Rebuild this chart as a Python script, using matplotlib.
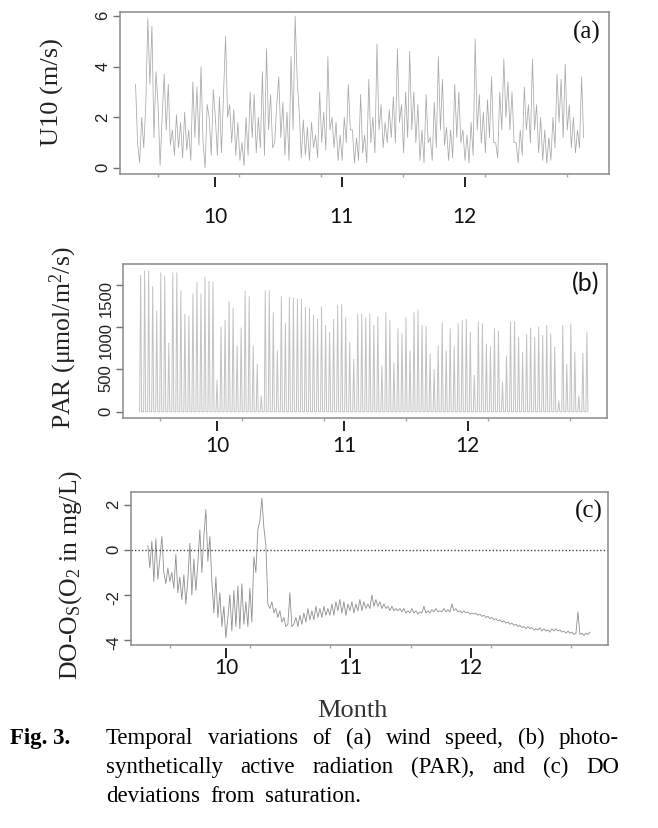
import numpy as np
import matplotlib
matplotlib.use("Agg")
import matplotlib.pyplot as plt

plt.rcParams["mathtext.default"] = "regular"
plt.rcParams["axes.unicode_minus"] = False

# x axis is day of year; month ticks at 1 Oct / 1 Nov / 1 Dec
month_pos = [274, 305, 335]
month_lab = ["10", "11", "12"]
minor_pos = [260, 280, 300, 320, 340, 360]

# (a) wind speed U10 (m/s), two readings per day
u10_start = 254.6
u10 = [3.3, 1.0, 0.2, 2.0, 0.8, 2.5, 5.9, 3.3, 5.6, 1.2, 3.8, 2.5, 0.1, 2.0, 3.7, 1.5,
       3.3, 0.9, 1.5, 0.5, 2.1, 0.8, 1.8, 0.4, 2.2, 0.7, 1.5, 0.3, 3.4, 1.2, 3.2, 0.9,
       4.0, 1.0, 0.0, 2.5, 2.0, 0.5, 3.1, 2.0, 0.5, 2.8, 0.6, 2.9, 5.2, 2.0, 2.5, 1.0,
       2.3, 0.5, 1.8, 0.3, 1.0, 0.1, 2.0, 0.5, 3.0, 1.2, 2.9, 0.6, 2.0, 0.8, 3.8, 0.5,
       4.7, 1.5, 2.9, 0.8, 1.0, 2.5, 3.6, 1.2, 2.6, 0.5, 2.2, 0.3, 4.4, 1.5, 6.0, 3.5,
       2.2, 0.4, 1.9, 0.5, 1.6, 0.3, 1.8, 0.8, 1.3, 0.4, 3.0, 1.0, 2.2, 0.7, 4.4, 1.5,
       2.0, 0.8, 1.8, 0.3, 1.3, 0.3, 2.0, 1.0, 3.3, 1.5, 1.5, 0.2, 1.2, 0.3, 2.9, 0.6,
       1.3, 0.2, 3.5, 1.0, 2.0, 0.6, 4.9, 1.5, 2.5, 0.8, 1.8, 1.0, 2.3, 1.2, 2.8, 1.0,
       4.7, 1.8, 2.5, 0.6, 3.0, 1.2, 4.6, 1.5, 3.0, 1.0, 2.5, 0.3, 1.5, 0.2, 2.9, 1.0,
       1.2, 0.3, 2.6, 0.8, 4.4, 1.5, 3.5, 0.9, 1.6, 0.3, 1.5, 0.4, 3.3, 1.2, 3.0, 1.0,
       1.5, 0.3, 1.3, 0.2, 1.8, 0.5, 5.1, 1.5, 2.9, 1.0, 2.2, 0.6, 2.7, 1.2, 3.6, 1.0,
       1.0, 0.4, 3.0, 1.5, 4.3, 2.0, 3.4, 1.5, 3.0, 1.0, 1.0, 0.2, 1.5, 0.5, 3.2, 1.5,
       2.5, 1.0, 4.3, 1.5, 2.5, 0.6, 2.0, 0.3, 1.5, 0.2, 1.2, 0.3, 2.0, 0.8, 3.7, 1.8,
       3.5, 1.2, 4.1, 1.5, 2.5, 0.8, 2.0, 0.6, 1.5, 0.8, 3.6, 1.2]

# (b) daily PAR peaks (umol/m2/s)
par_first, par_last = 255.3, 364.1
par_peak = [1610, 1660, 1660, 1480, 1190, 1640, 1600, 810, 1640, 1640, 1430, 1150,
            1130, 1390, 1530, 1390, 1590, 1540, 1530, 370, 1000, 1080, 1300, 1220,
            780, 990, 1420, 1360, 780, 560, 190, 1430, 1430, 1170, 720, 1360, 1040,
            1350, 1340, 1330, 1330, 1230, 1220, 1140, 1090, 1240, 1020,
            940, 1090, 1260, 1270, 1110, 820, 620, 1150, 1150, 1110, 1150, 1020, 1120,
            540, 1170, 1080, 580, 980, 920, 1110, 720, 1170, 1200, 1020, 1010, 680,
            500, 780, 1050, 720, 980, 770, 1040, 1080, 1090, 940, 430, 1060, 1040, 800,
            770, 980, 950, 350, 660, 1060, 1060, 880, 700, 910, 990, 880, 1000, 900,
            1020, 920, 760, 130, 1020, 560, 1040, 700, 190, 690, 940]

# (c) DO - Os (mg/L), two readings per day
do_first, do_last = 254.5, 364.7
do_dev = [0.2, -0.8, 0.4, -1.4, 0.5, -1.3, -0.4, 0.6, -1.0, -1.5, -0.8, -1.4, -1.0, -1.7,
          -0.2, -1.9, -1.2, -2.2, -1.1, -2.4, -1.3, 0.3, -2.0, -0.4, -1.8, -0.6, 0.9, -1.0,
          0.6, 1.8, -0.5, 0.6, -1.4, -2.8, -1.2, -3.0, -1.9, -3.4, -2.5, -3.9, -3.0, -2.0,
          -3.6, -1.8, -3.4, -1.6, -3.5, -1.5, -3.3, -2.3, -3.4, -1.7, -3.2, -0.3, -1.0, 0.9,
          1.3, 2.3, 1.0, 0.2, -2.4, -2.6, -2.3, -2.8, -2.6, -3.0, -2.7, -3.2, -3.0, -3.4,
          -3.3, -1.9, -3.4, -3.3, -3.0, -3.4, -2.9, -3.3, -2.8, -3.2, -2.6, -3.1, -2.7, -3.1,
          -2.5, -3.0, -2.6, -3.0, -2.5, -2.9, -2.6, -2.9, -2.4, -2.9, -2.3, -2.7, -2.2, -2.8,
          -2.3, -2.9, -2.4, -2.7, -2.3, -2.8, -2.4, -2.7, -2.2, -2.7, -2.3, -2.6, -2.4, -2.6,
          -2.0, -2.5, -2.2, -2.5, -2.3, -2.6, -2.4, -2.6, -2.5, -2.7, -2.5, -2.7, -2.6, -2.7,
          -2.6, -2.75, -2.6, -2.8, -2.7, -2.8, -2.6, -2.8, -2.7, -2.85, -2.75, -2.8, -2.5,
          -2.8, -2.7, -2.8, -2.65, -2.75, -2.6, -2.75, -2.7, -2.75, -2.6, -2.75, -2.65, -2.75,
          -2.4, -2.7, -2.6, -2.75, -2.7, -2.8, -2.7, -2.8, -2.75, -2.85, -2.8, -2.85, -2.8,
          -2.9, -2.85, -2.95, -2.9, -3.0, -2.95, -3.05, -3.0, -3.1, -3.05, -3.15, -3.1, -3.2,
          -3.15, -3.25, -3.2, -3.3, -3.25, -3.35, -3.3, -3.4, -3.35, -3.45, -3.4, -3.5, -3.4,
          -3.5, -3.45, -3.55, -3.5, -3.55, -3.45, -3.6, -3.5, -3.6, -3.55, -3.65, -3.5, -3.6,
          -3.5, -3.6, -3.55, -3.65, -3.6, -3.7, -3.6, -3.7, -3.65, -3.75, -3.7, -2.75, -3.75,
          -3.7, -3.8, -3.7, -3.75, -3.65]

W, H = 658, 829
fig = plt.figure(figsize=(W / 100, H / 100), dpi=100)
SERIF = "Liberation Serif"


def box(l, t, r, b):
    return [l / W, 1 - b / H, (r - l) / W, (b - t) / H]


def style(ax, xlim, ylim, yticks, hpx, lab_pad):
    ax.set_xlim(*xlim)
    ax.set_ylim(*ylim)
    for s in ax.spines.values():
        s.set_color("#8a8a8a")
        s.set_linewidth(1.1)
    ax.set_yticks(yticks)
    ax.tick_params(axis="y", direction="out", length=5, width=1, color="#707070",
                   pad=2, labelsize=12, labelcolor="#222222", labelrotation=90,
                   labelfontfamily="Liberation Sans")
    ax.set_xticks(minor_pos)
    ax.set_xticklabels([])
    ax.tick_params(axis="x", direction="out", length=2.5, width=1, color="#a8a8a8")
    sec = ax.secondary_xaxis(-2.5 / hpx)
    sec.spines["bottom"].set_visible(False)
    sec.set_xticks(month_pos, labels=month_lab)
    sec.tick_params(direction="out", length=7.2, width=1.3, color="#111111",
                    pad=lab_pad, labelsize=15, labelcolor="#111111",
                    labelfontfamily="Lato")


# (a) wind speed
ax1 = fig.add_axes(box(120, 13, 609, 175))
t1 = u10_start + 0.5 * np.arange(len(u10))
ax1.plot(t1, u10, color="#a8a8a8", lw=0.55)
style(ax1, (250.8, 370.3), (-0.237, 6.158), [0, 2, 4, 6], 162, 14)
ax1.text(0.955, 0.88, "(a)", transform=ax1.transAxes, ha="center", va="center",
         fontsize=18, family=SERIF, color="#111111")

# (b) PAR spikes
ax2 = fig.add_axes(box(123, 265, 607, 419))
pday = np.linspace(par_first, par_last, len(par_peak))
px = np.column_stack([pday - 0.25, pday, pday + 0.25]).ravel()
py = np.column_stack([np.zeros(len(par_peak)), par_peak, np.zeros(len(par_peak))]).ravel()
ax2.plot(px, py, color="#c2c2c2", lw=0.7)
style(ax2, (251.0, 369.0), (-74, 1744), [0, 500, 1000, 1500], 154, 3)
ax2.text(0.955, 0.88, "(b)", transform=ax2.transAxes, ha="center", va="center",
         fontsize=18, family="Lato", color="#111111")

# (c) DO deviation
ax3 = fig.add_axes(box(131, 493, 608, 646))
t3 = np.linspace(do_first, do_last, len(do_dev))
ax3.plot(t3, do_dev, color="#8e8e8e", lw=0.6)
ax3.axhline(0, color="#444444", lw=1, ls=(0, (1, 1.5)))
style(ax3, (250.3, 369.2), (-4.222, 2.578), [-4, -2, 0, 2], 153, 0)
ax3.text(0.96, 0.88, "(c)", transform=ax3.transAxes, ha="center", va="center",
         fontsize=18, family=SERIF, color="#111111")

# y labels
fig.text(52 / W, 1 - 92 / H, "U10 (m/s)", rotation=90, ha="center", va="center",
         fontsize=19, family=SERIF, color="#222222")
fig.text(63 / W, 1 - 338 / H, "PAR (μmol/m$^{2}$/s)", rotation=90, ha="center",
         va="center", fontsize=18.5, family=SERIF, color="#222222")
fig.text(71 / W, 1 - 575 / H, "DO-O$_{S}$(O$_{2}$ in mg/L)", rotation=90,
         ha="center", va="center", fontsize=18.5, family=SERIF, color="#222222")

fig.text(352 / W, 1 - 717 / H, "Month", ha="center", va="baseline",
         fontsize=19, family=SERIF, color="#333333")

# caption, justified like the journal layout
renderer = fig.canvas.get_renderer()


def put_line(words, y, x0, x1=None, gap=None, size=16.5):
    ts = [fig.text(0, 1 - y / H, w, fontsize=size, family=SERIF, va="baseline")
          for w in words]
    ws = [t.get_window_extent(renderer).width for t in ts]
    if gap is None:
        gap = (x1 - x0 - sum(ws)) / (len(words) - 1)
    x = x0
    for t, w in zip(ts, ws):
        t.set_x(x / W)
        x += w + gap


fig.text(10 / W, 1 - 744 / H, "Fig. 3.", fontsize=16.5, family=SERIF,
         weight="bold", va="baseline")
put_line("Temporal variations of (a) wind speed, (b) photo-".split(), 744, 106, 619)
put_line("synthetically active radiation (PAR), and (c) DO".split(), 773, 106, 619)
put_line("deviations from saturation.".split(), 802, 106, gap=10)

fig.savefig("out.png", dpi=100)
